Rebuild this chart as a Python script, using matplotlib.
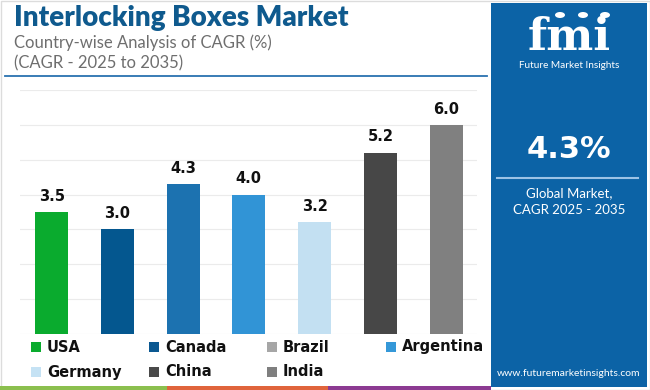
import matplotlib
matplotlib.use("Agg")
import matplotlib.pyplot as plt
from matplotlib.patches import Rectangle, Circle
from matplotlib.lines import Line2D

countries = ["USA", "Canada", "Brazil", "Argentina", "Germany", "China", "India"]
cagr = [3.5, 3.0, 4.3, 4.0, 3.2, 5.2, 6.0]
bar_colors = ["#0aab2e", "#04578f", "#1c72b0", "#3194d6", "#c3e0f2", "#474747", "#808080"]
legend_colors = ["#0aab2e", "#0b5891", "#a6a6a6", "#3598d8", "#c5e2f4", "#4a4a4a", "#7f7f7f"]
yticks = [0, 1, 2, 3, 4, 5, 6, 7]

title = "Interlocking Boxes Market"
subtitle1 = "Country-wise Analysis of CAGR (%)"
subtitle2 = "(CAGR - 2025 to 2035)"
global_cagr = "4.3%"

W, H = 650, 390
fig = plt.figure(figsize=(6.5, 3.9), dpi=100)
fig.patch.set_facecolor("white")
FONT = "Lato"
BOLD = "DejaVu Sans"

def fx(x):
    return x / W

def fy(y):
    return 1 - y / H

def frect(x0, y0, x1, y1, **kw):
    fig.patches.append(Rectangle((fx(x0), fy(y1)), fx(x1) - fx(x0), (y1 - y0) / H,
                                 transform=fig.transFigure, figure=fig, **kw))

def fline(x0, y0, x1, y1, **kw):
    fig.lines.append(Line2D([fx(x0), fx(x1)], [fy(y0), fy(y1)],
                            transform=fig.transFigure, figure=fig, **kw))

# outer border
frect(0.5, 0.5, 649.5, 389.5, facecolor="none", edgecolor="#dcdcdc", lw=1)

# main axes
ax_l, ax_r, ax_t, ax_b = 20, 477, 90, 334
ax = fig.add_axes([fx(ax_l), fy(ax_b), fx(ax_r) - fx(ax_l), (ax_b - ax_t) / H])
x = list(range(len(countries)))
bars = ax.bar(x, cagr, width=0.5, color=bar_colors, zorder=3)
ax.set_ylim(0, 7)
ax.set_xlim(-0.48, 6.47)
ax.set_yticks(yticks)
ax.set_xticks([])
ax.tick_params(left=False, labelleft=False)
ax.grid(axis="y", color="#ebebeb", lw=0.8, zorder=0)
for s in ax.spines.values():
    s.set_visible(False)
for xi, v in zip(x, cagr):
    ax.annotate(f"{v:.1f}", (xi, v), xytext=(0, 6), textcoords="offset points",
                ha="center", va="bottom", fontsize=10.5, fontweight="bold",
                color="#111111", family=BOLD)

# titles
fig.text(fx(14), fy(18), title, fontsize=20, fontweight="heavy", color="#0f5a8e",
         family=FONT, va="center", ha="left")
fig.text(fx(14), fy(43), subtitle1, fontsize=12, color="#6e6e6e", family=FONT,
         va="center", ha="left")
fig.text(fx(14), fy(63), subtitle2, fontsize=12, color="#6e6e6e", family=FONT,
         va="center", ha="left")
fline(5, 76, 487, 76, color="#2a72b0", lw=1.3)

# legend
col_x = [31, 149, 267, 386]
row_y = [347, 372]
for i, (name, col) in enumerate(zip(countries, legend_colors)):
    r, c = divmod(i, 4)
    cx, cy = col_x[c], row_y[r]
    frect(cx, cy - 5, cx + 10, cy + 5, facecolor=col, edgecolor="none")
    fig.text(fx(cx + 16), fy(cy), name, fontsize=10.5, fontweight="bold",
             color="#111111", family=BOLD, va="center", ha="left")

# bottom strip
frect(0, 386, 167, 390, facecolor="#8bbf4e", edgecolor="none")
frect(167, 386, 328, 390, facecolor="#e0643c", edgecolor="none")
frect(328, 386, 491, 390, facecolor="#8c3a92", edgecolor="none")

# right panel
frect(491, 3, 647, 387, facecolor="#0c63a6", edgecolor="none")
pcx = 569
fig.text(fx(pcx), fy(37), "fmi", fontsize=32, fontweight="bold", color="white",
         family="DejaVu Serif", ha="center", va="center")
for yy in range(26, 56, 4):
    fline(512, yy, 626, yy, color="#0c63a6", lw=0.9)
for cxp in (560, 583, 605):
    fig.patches.append(Circle((fx(cxp), fy(15)), 5 / W, transform=fig.transFigure,
                              figure=fig, facecolor="white", edgecolor="none"))
fig.text(fx(pcx), fy(66), "Future Market Insights", fontsize=7.2, color="white",
         family=FONT, ha="center", va="center")
fig.text(fx(pcx), fy(150), global_cagr, fontsize=22, fontweight="bold", color="white",
         family=BOLD, ha="center", va="center")
fline(497, 178, 638, 178, color="#9cc3e6", lw=1.5)
fig.text(fx(pcx), fy(193), "Global Market,", fontsize=9.5, color="white",
         family=FONT, ha="center", va="center")
fig.text(fx(pcx), fy(210), "CAGR 2025 - 2035", fontsize=9.5, color="white",
         family=FONT, ha="center", va="center")
fig.text(fx(pcx), fy(373), "www.futuremarketinsights.com", fontsize=7.5, color="white",
         family=FONT, ha="center", va="center")

fig.savefig("out.png", dpi=100)
